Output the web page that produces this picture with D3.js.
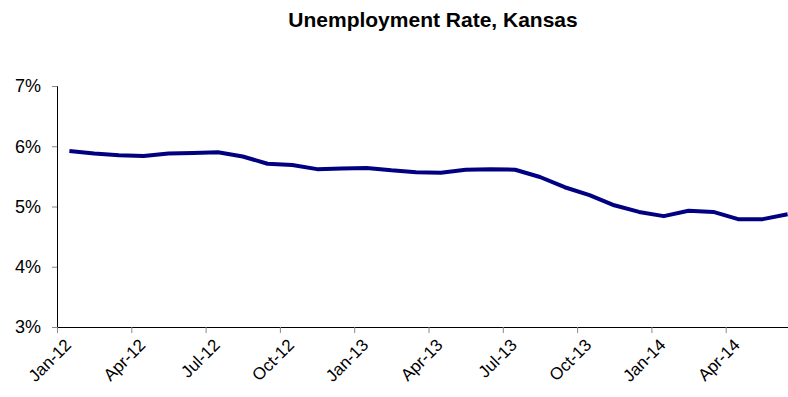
<!DOCTYPE html>
<html>
<head>
<meta charset="utf-8">
<script src="https://cdn.jsdelivr.net/npm/d3@7"></script>
<style>
  html, body { margin: 0; padding: 0; background: #fff; }
  svg { display: block; font-family: "Liberation Sans", Arial, sans-serif; }
</style>
</head>
<body>
<div id="container"></div>
<script>
const months = ['Jan-12', 'Feb-12', 'Mar-12', 'Apr-12', 'May-12', 'Jun-12', 'Jul-12', 'Aug-12', 'Sep-12', 'Oct-12', 'Nov-12', 'Dec-12',
  'Jan-13', 'Feb-13', 'Mar-13', 'Apr-13', 'May-13', 'Jun-13', 'Jul-13', 'Aug-13', 'Sep-13', 'Oct-13', 'Nov-13', 'Dec-13',
  'Jan-14', 'Feb-14', 'Mar-14', 'Apr-14', 'May-14', 'Jun-14'];
const rates = [5.92, 5.88, 5.85, 5.84, 5.88, 5.89, 5.90, 5.83, 5.71, 5.69, 5.62, 5.63,
  5.64, 5.60, 5.57, 5.56, 5.61, 5.62, 5.61, 5.49, 5.32, 5.19, 5.02, 4.91,
  4.84, 4.93, 4.91, 4.79, 4.79, 4.87];
const yTicks = [3, 4, 5, 6, 7];
const xTickLabels = ['Jan-12', 'Apr-12', 'Jul-12', 'Oct-12', 'Jan-13', 'Apr-13', 'Jul-13', 'Oct-13', 'Jan-14', 'Apr-14'];

const width = 788, height = 397;
const margin = { top: 86, left: 57, bottom: 70 };
const plotW = 743; // runs past the right edge like the source image
const plotH = height - margin.top - margin.bottom;

const svg = d3.select('#container').append('svg')
  .attr('width', width)
  .attr('height', height);

svg.append('text')
  .attr('x', 433)
  .attr('y', 27)
  .attr('text-anchor', 'middle')
  .style('font-size', '21px')
  .style('font-weight', 'bold')
  .text('Unemployment Rate, Kansas');

// index scale: category i sits between i and i+1
const x = d3.scaleLinear()
  .domain([0, months.length])
  .range([margin.left, margin.left + plotW]);

const y = d3.scaleLinear()
  .domain([3, 7])
  .range([margin.top + plotH, margin.top]);

const yAxis = d3.axisLeft(y)
  .tickValues(yTicks)
  .tickSize(5)
  .tickPadding(11)
  .tickFormat(d => d + '%');

const gy = svg.append('g')
  .attr('transform', `translate(${margin.left},0)`)
  .call(yAxis);
gy.select('.domain').attr('stroke', '#000');
gy.selectAll('.tick line').attr('stroke', '#888');
gy.selectAll('.tick text').style('font-size', '18px').attr('fill', '#000');

const xAxis = d3.axisBottom(x)
  .tickValues(xTickLabels.map(l => months.indexOf(l)))
  .tickSize(6)
  .tickSizeOuter(0)
  .tickFormat(i => months[i]);

const gx = svg.append('g')
  .attr('transform', `translate(0,${margin.top + plotH})`)
  .call(xAxis);
gx.select('.domain').attr('stroke', '#000');
gx.selectAll('.tick line').attr('stroke', '#888');
gx.selectAll('.tick text')
  .style('font-size', '17px')
  .attr('fill', '#000')
  .attr('text-anchor', 'end')
  .attr('dy', '0.35em')
  .attr('transform', `translate(${(x(1) - x(0)) / 2 + 1},12) rotate(-45)`)
  .attr('x', -4)
  .attr('y', 0);

const line = d3.line()
  .x((d, i) => x(i + 0.5))
  .y(d => y(d));

svg.append('path')
  .datum(rates)
  .attr('fill', 'none')
  .attr('stroke', '#000080')
  .attr('stroke-width', 4)
  .attr('stroke-linejoin', 'round')
  .attr('d', line);
</script>
</body>
</html>
